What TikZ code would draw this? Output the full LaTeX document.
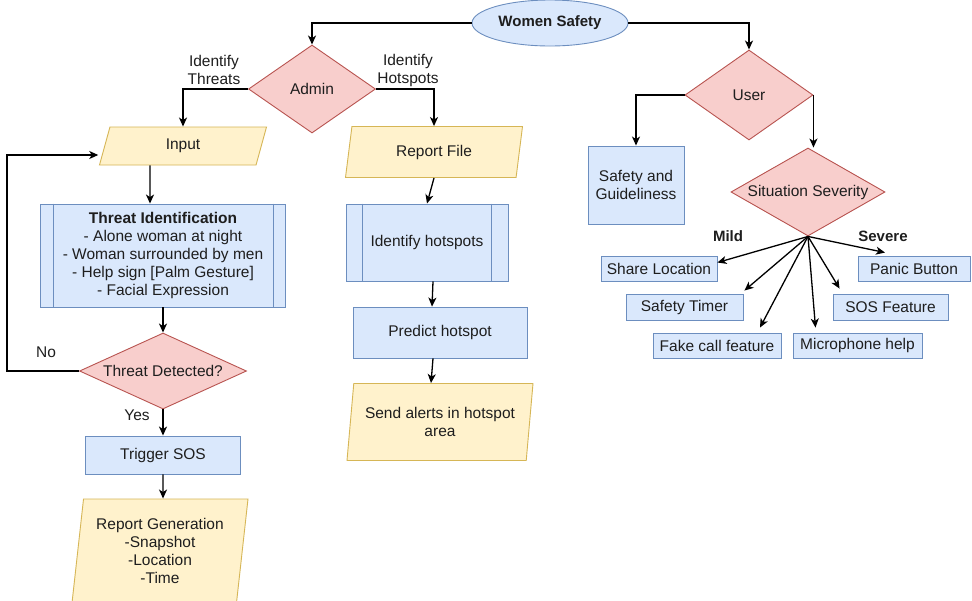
\documentclass[tikz,border=0pt]{standalone}
\usepackage{fontspec}
\setmainfont{Liberation Sans}
\usetikzlibrary{shapes.geometric,arrows.meta}

\definecolor{blaufill}{HTML}{DAE8FC}
\definecolor{blaurand}{HTML}{6C8EBF}
\definecolor{rotfill}{HTML}{F8CECC}
\definecolor{rotrand}{HTML}{B85450}
\definecolor{gelbfill}{HTML}{FFF2CC}
\definecolor{gelbrand}{HTML}{D6B656}
\definecolor{schrift}{HTML}{1E1E1E}

\begin{document}
\begin{tikzpicture}[x=1pt,y=-1pt,
    font=\fontsize{15.5}{18}\selectfont, text=schrift,
    kasten/.style={rectangle, draw=blaurand, fill=blaufill, line width=0.9pt, inner sep=0pt, align=center},
    raute/.style={diamond, aspect=2, draw=rotrand, fill=rotfill, line width=0.9pt, inner sep=0pt},
    daten/.style={trapezium, trapezium stretches body, draw=gelbrand, fill=gelbfill, line width=0.9pt, inner sep=0pt, align=center},
    pfeil/.style={-{Stealth[length=9pt,width=8pt,inset=2.5pt]}, line width=1.3pt},
]

\useasboundingbox (0,0) rectangle (972,600);
\fill[white] (0,0) rectangle (972,600);
\clip (0,0) rectangle (972,600);

% oben
\node[ellipse, draw=blaurand, fill=blaufill, line width=0.9pt, minimum width=156pt, minimum height=46pt, font=\fontsize{15}{18}\selectfont\bfseries] (ws) at (550,23) {Women Safety};
\node[raute, minimum width=127pt, minimum height=88pt] (admin) at (312,89) {Admin};
\node[raute, minimum width=128pt, minimum height=90pt] (user) at (749,95) {User};

\node[align=center] (lt) at (214,70) {Identify\\Threats};
\node[align=center] (lh) at (408,70) {Identify\\Hotspots};

% links
\node[daten, trapezium left angle=53, trapezium right angle=127, minimum width=167pt, minimum height=38pt] (input) at (183,146) {Input};
\node[kasten, minimum width=245pt, minimum height=103pt] (tid) at (163,255.5) {\textbf{Threat Identification}\\- Alone woman at night\\- Woman surrounded by men\\- Help sign [Palm Gesture]\\- Facial Expression};
\draw[blaurand, line width=0.9pt] ([xshift=13pt]tid.north west) -- ([xshift=13pt]tid.south west);
\draw[blaurand, line width=0.9pt] ([xshift=-13pt]tid.north east) -- ([xshift=-13pt]tid.south east);
\node[raute, minimum width=167pt, minimum height=76pt] (td) at (163,371) {Threat Detected?};
\node[kasten, minimum width=155pt, minimum height=38pt] (ts) at (163,455) {Trigger SOS};
\node[daten, trapezium left angle=80, trapezium right angle=100, minimum width=176pt, minimum height=104pt] (rg) at (160,551) {Report Generation\\-Snapshot\\-Location\\-Time};

\node (no) at (46,352) {No};
\node (yes) at (137,415) {Yes};

% mitte
\node[daten, trapezium left angle=66, trapezium right angle=114, minimum width=177pt, minimum height=51pt] (rf) at (434,152) {Report File};
\node[kasten, minimum width=162pt, minimum height=77pt] (ih) at (427,242.5) {Identify hotspots};
\draw[blaurand, line width=0.9pt] ([xshift=17pt]ih.north west) -- ([xshift=17pt]ih.south west);
\draw[blaurand, line width=0.9pt] ([xshift=-17pt]ih.north east) -- ([xshift=-17pt]ih.south east);
\node[kasten, minimum width=174pt, minimum height=51pt] (ph) at (440,332.5) {Predict hotspot};
\node[daten, trapezium left angle=77, trapezium right angle=103, minimum width=186pt, minimum height=77pt] (sa) at (440,422) {Send alerts in hotspot\\area};

% rechts
\node[kasten, minimum width=96pt, minimum height=78pt] (sg) at (636,185) {Safety and\\Guideliness};
\node[raute, minimum width=154pt, minimum height=88pt] (ss) at (808,192) {Situation Severity};
\node[font=\fontsize{15}{18}\selectfont\bfseries] (mild) at (728,236) {Mild};
\node[font=\fontsize{15}{18}\selectfont\bfseries] (severe) at (883,236) {Severe};

\node[kasten, minimum width=116pt, minimum height=25pt] (sl) at (659,268.5) {Share Location};
\node[kasten, minimum width=117pt, minimum height=26pt] (st) at (684.5,307) {Safety Timer};
\node[kasten, minimum width=128pt, minimum height=25pt] (fc) at (717,345.5) {Fake call feature};
\node[kasten, minimum width=129pt, minimum height=25pt] (mh) at (857.5,345.5) {Microphone help};
\node[kasten, minimum width=115pt, minimum height=26pt] (sf) at (890.5,307) {SOS Feature};
\node[kasten, minimum width=112pt, minimum height=25pt] (pb) at (914,268.5) {Panic Button};

% pfeile
\draw[pfeil] (ws.west) -| (admin.north);
\draw[pfeil] (ws.east) -| (user.north);
\draw[pfeil] (admin.west) -| (input.north);
\draw[pfeil] (admin.east) -| (rf.north);

\draw[pfeil] ([xshift=-33pt]input.south) -- ([xshift=-13pt]tid.north);
\draw[pfeil] (tid.south) -- (td.north);
\draw[pfeil] (td.west) -- ++(-72,0) |- ([xshift=-6pt,yshift=-9pt]input.west);
\draw[pfeil] (td.south) -- (ts.north);
\draw[pfeil] (ts.south) -- ([xshift=3pt]rg.north);

\draw[pfeil] (rf.south) -- (ih.north);
\draw[pfeil] ([xshift=6pt]ih.south) -- ([xshift=-8pt]ph.north);
\draw[pfeil] ([xshift=-7pt]ph.south) -- ([xshift=-9pt]sa.north);

\draw[pfeil] (user.west) -| (sg.north);
\draw[pfeil] (user.east) -- (user.east |- ss.north);

\draw[pfeil] (ss.south) -- ([yshift=6pt]sl.east);
\draw[pfeil] (ss.south) -- ([xshift=1pt,yshift=3pt]st.north east);
\draw[pfeil] (ss.south) -- ([xshift=43pt,yshift=5pt]fc.north);
\draw[pfeil] (ss.south) -- ([xshift=-42pt,yshift=5pt]mh.north);
\draw[pfeil] (ss.south) -- ([xshift=7pt,yshift=5pt]sf.north west);
\draw[pfeil] (ss.south) -- ([xshift=-29pt,yshift=3pt]pb.north);

\end{tikzpicture}
\end{document}
